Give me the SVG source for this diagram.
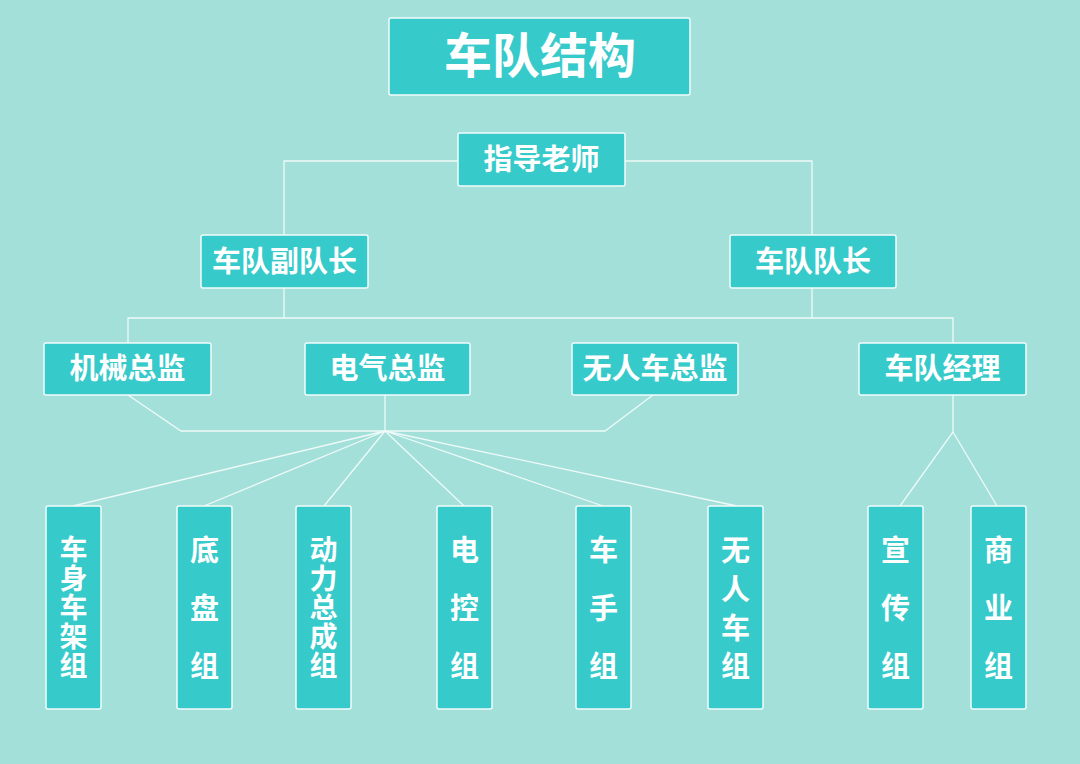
<svg xmlns="http://www.w3.org/2000/svg" width="1080" height="764" viewBox="0 0 1080 764">
<style>
.bx{fill:#37caca;stroke:#f2fbfa;stroke-width:1.5}
.t{fill:#ffffff;font-family:"Noto Sans CJK SC","Noto Sans",sans-serif;font-weight:bold;text-anchor:middle;dominant-baseline:central}
.m{font-size:29px}
.v{font-size:29px}
.v5{font-size:28px}
.ln{fill:none;stroke:#eefaf8;stroke-width:1.3}
</style>
<rect width="1080" height="764" fill="#a3e0da"/>
<g id="connectors" class="ln">
<path d="M458,161 H284 V235"/>
<path d="M625,161 H812 V235"/>
<path d="M284,288 V318 M812,288 V318 M128,343 V318 H953 V343"/>
<path d="M128,395 L181,431 H605 L653,395"/>
<path d="M385,395 V431"/>
<path d="M385,431 L73,506 M385,431 L204,506 M385,431 L324,506 M385,431 L464,506 M385,431 L603,506 M385,431 L737,506"/>
<path d="M953,395 V432 L900,506 M953,432 L997,506"/>
</g>
<g id="title"><rect class="bx" x="389" y="18" width="301" height="77" rx="2"/><text class="t" x="540" y="52" font-size="48">车队结构</text></g>
<g id="advisor"><rect class="bx" x="458" y="133" width="167" height="53" rx="2"/><text class="t m" x="541.5" y="157">指导老师</text></g>
<g id="vice-captain"><rect class="bx" x="201" y="235" width="167" height="53" rx="2"/><text class="t m" x="284.5" y="259">车队副队长</text></g>
<g id="captain"><rect class="bx" x="730" y="235" width="166" height="53" rx="2"/><text class="t m" x="813" y="259">车队队长</text></g>
<g id="mech-director"><rect class="bx" x="44" y="343" width="167" height="52" rx="2"/><text class="t m" x="127.5" y="366">机械总监</text></g>
<g id="elec-director"><rect class="bx" x="305" y="343" width="165" height="52" rx="2"/><text class="t m" x="387.5" y="366">电气总监</text></g>
<g id="auto-director"><rect class="bx" x="572" y="343" width="166" height="52" rx="2"/><text class="t m" x="655" y="366">无人车总监</text></g>
<g id="manager"><rect class="bx" x="859" y="343" width="167" height="52" rx="2"/><text class="t m" x="942.5" y="366">车队经理</text></g>
<g id="body-frame"><rect class="bx" x="46" y="506" width="55" height="203" rx="2"/><text class="t v5"><tspan x="73.5" y="548">车</tspan><tspan x="73.5" y="577">身</tspan><tspan x="73.5" y="606">车</tspan><tspan x="73.5" y="635">架</tspan><tspan x="73.5" y="664">组</tspan></text></g>
<g id="chassis"><rect class="bx" x="177" y="506" width="55" height="203" rx="2"/><text class="t v"><tspan x="204.5" y="548">底</tspan><tspan x="204.5" y="606">盘</tspan><tspan x="204.5" y="664">组</tspan></text></g>
<g id="powertrain"><rect class="bx" x="296" y="506" width="55" height="203" rx="2"/><text class="t v5"><tspan x="323.5" y="548">动</tspan><tspan x="323.5" y="577">力</tspan><tspan x="323.5" y="606">总</tspan><tspan x="323.5" y="635">成</tspan><tspan x="323.5" y="664">组</tspan></text></g>
<g id="electronic-control"><rect class="bx" x="437" y="506" width="55" height="203" rx="2"/><text class="t v"><tspan x="464.5" y="548">电</tspan><tspan x="464.5" y="606">控</tspan><tspan x="464.5" y="664">组</tspan></text></g>
<g id="driver"><rect class="bx" x="576" y="506" width="55" height="203" rx="2"/><text class="t v"><tspan x="603.5" y="548">车</tspan><tspan x="603.5" y="606">手</tspan><tspan x="603.5" y="664">组</tspan></text></g>
<g id="driverless"><rect class="bx" x="708" y="506" width="55" height="203" rx="2"/><text class="t v"><tspan x="735.5" y="548">无</tspan><tspan x="735.5" y="587">人</tspan><tspan x="735.5" y="626">车</tspan><tspan x="735.5" y="664">组</tspan></text></g>
<g id="publicity"><rect class="bx" x="868" y="506" width="55" height="203" rx="2"/><text class="t v"><tspan x="895.5" y="548">宣</tspan><tspan x="895.5" y="606">传</tspan><tspan x="895.5" y="664">组</tspan></text></g>
<g id="business"><rect class="bx" x="971" y="506" width="55" height="203" rx="2"/><text class="t v"><tspan x="998.5" y="548">商</tspan><tspan x="998.5" y="606">业</tspan><tspan x="998.5" y="664">组</tspan></text></g>
</svg>
